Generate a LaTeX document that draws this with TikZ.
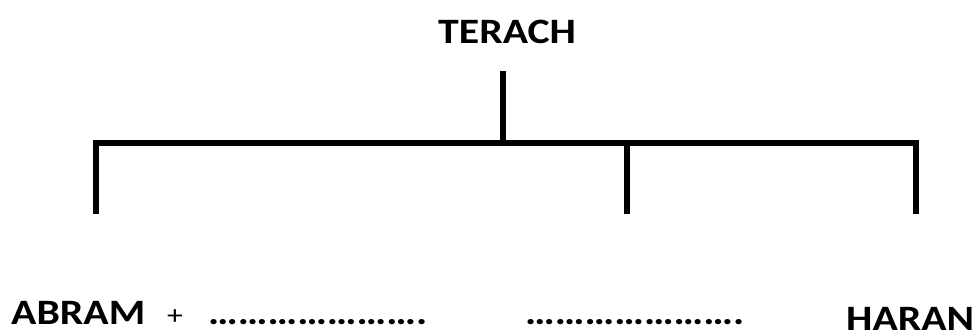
\documentclass[tikz,border=0pt]{standalone}
\usepackage{fontspec}
\setmainfont{Carlito}[FakeStretch=1.17]
\newcommand{\dotrow}{…………………….}
\begin{document}
\begin{tikzpicture}[x=1pt,y=-1pt,
  lbl/.style={inner sep=0pt, anchor=base west, font=\fontsize{35.7}{40}\selectfont\bfseries},
  pluslbl/.style={inner sep=0pt, anchor=base west, font=\fontsize{27}{28}\selectfont},
  tree/.style={line width=6pt, line cap=butt}]
\useasboundingbox (0,0) rectangle (976,334);
% coordinates of the tree
\coordinate (stemtop) at (503,71);
\coordinate (stembot) at (503,143);
\coordinate (barL) at (96,143);
\coordinate (barR) at (916,143);
\coordinate (leftT) at (96,140);
\coordinate (leftB) at (96,214);
\coordinate (midT) at (627,143);
\coordinate (midB) at (627,214);
\coordinate (rightT) at (916,140);
\coordinate (rightB) at (916,214);
% texts
\node[lbl] (terach) at (438,44) {TERACH};
\node[lbl] (abram) at (11,324) {ABRAM};
\node[pluslbl] (plus) at (167,324) {+};
\node[lbl] (dotsA) at (208,324) {…{}…{}…{}…{}…{}…{}…{}.};
\node[lbl] (dotsB) at (525,324) {…{}…{}…{}…{}…{}…{}…{}.};
\node[lbl] (haran) at (846,330) {HARAN};
% connectors
\draw[tree] (stemtop) -- (stembot);
\draw[tree] ([xshift=1pt]barL) -- ([xshift=3pt]barR);
\draw[tree] (leftT) -- (leftB);
\draw[tree] (midT) -- (midB);
\draw[tree] (rightT) -- (rightB);
\end{tikzpicture}
\end{document}
